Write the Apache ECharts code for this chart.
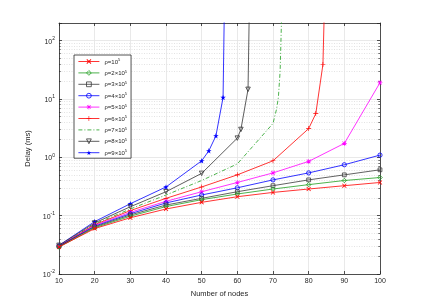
<!DOCTYPE html>
<html><head><meta charset="utf-8">
<script src="https://cdn.jsdelivr.net/npm/echarts@6/dist/echarts.min.js"></script>
<style>html,body{margin:0;padding:0;background:#fff}#c{width:421px;height:308px}</style>
</head><body><div id="c"></div>
<script>
const nodes = [10,20,30,40,50,60,70,80,90,100];
const xTicks = [10,20,30,40,50,60,70,80,90,100];
const rho1 = [0.029,0.060,0.092,0.130,0.169,0.211,0.250,0.286,0.326,0.37];
const rho2 = [0.029,0.062,0.098,0.143,0.188,0.235,0.286,0.34,0.40,0.45];
const rho3 = [0.030,0.064,0.103,0.152,0.198,0.257,0.326,0.41,0.50,0.61];
const rho4 = [0.030,0.066,0.108,0.165,0.226,0.30,0.41,0.54,0.745,1.09];
const rho5 = [0.030,0.068,0.114,0.176,0.257,0.37,0.54,0.85,1.73,19];
const rho6x = [10,20,30,40,50,60,70,80,82,84,85];
const rho6 = [0.030,0.070,0.122,0.198,0.31,0.50,0.87,3.1,5.6,39,1e4];
const rho7x = [10,20,30,40,50,60,70,71,71.5,72,72.5];
const rho7 = [0.030,0.072,0.130,0.226,0.40,0.77,3.8,6.7,10.5,30,400];
const rho8x = [10,20,30,40,50,60,61,63,64];
const rho8 = [0.031,0.075,0.142,0.257,0.53,2.13,3.0,14.6,1e5];
const rho9x = [10,20,30,40,50,52,54,56,57];
const rho9 = [0.031,0.079,0.160,0.31,0.87,1.29,2.33,10.6,2e5];
const names = ['ρ=10^5','ρ=2×10^5','ρ=3×10^5','ρ=4×10^5','ρ=5×10^5','ρ=6×10^5','ρ=7×10^5','ρ=8×10^5','ρ=9×10^5'];

const P_X = 'path://M0,1.2L1.2,0L10,8.8L8.8,10Z M8.8,0L10,1.2L1.2,10L0,8.8Z';
const P_PLUS = 'path://M4.4,0H5.6V4.4H10V5.6H5.6V10H4.4V5.6H0V4.4H4.4Z';
const P_AST = 'path://M4.45,0H5.55V4.45H10V5.55H5.55V10H4.45V5.55H0V4.45H4.45Z M0.8,1.6L1.6,0.8L9.2,8.4L8.4,9.2Z M8.4,0.8L9.2,1.6L1.6,9.2L0.8,8.4Z';
const P_STAR = 'path://M5,0L6.18,3.62L10,3.62L6.91,5.86L8.09,9.51L5,7.27L1.91,9.51L3.09,5.86L0,3.62L3.82,3.62Z';

function pairs(xs, ys){ return xs.map((x,i)=>[x, ys[i]]); }

function mk(i, xs, ys, color, symbol, size, hollow, extra){
  const s = {
    name: names[i], type: 'line', data: pairs(xs, ys),
    symbol: symbol, symbolSize: size, showAllSymbol: true,
    lineStyle: {color: color, width: 0.8},
    itemStyle: hollow ? {color: 'rgba(255,255,255,0)', borderColor: color, borderWidth: 0.8}
                      : {color: color, borderWidth: 0},
    emphasis: {disabled: true}, animation: false, z: 10 - i
  };
  return Object.assign(s, extra || {});
}

const series = [
  mk(0, nodes, rho1, '#ff0000', P_X, 4.5, false),
  mk(1, nodes, rho2, '#1f9e1f', 'diamond', 4.5, true),
  mk(2, nodes, rho3, '#3a3a3a', 'rect', 3.8, true),
  mk(3, nodes, rho4, '#0000ff', 'circle', 4.2, true),
  mk(4, nodes, rho5, '#ff00ff', P_AST, 5, false),
  mk(5, rho6x, rho6, '#ff0000', P_PLUS, 5, false),
  mk(6, rho7x, rho7, '#1f9e1f', 'none', 1, false, {lineStyle: {color: '#1f9e1f', width: 0.8, type: [4,2,1,2]}}),
  mk(7, rho8x, rho8, '#333333', 'triangle', 4.5, true, {symbolRotate: 180}),
  mk(8, rho9x, rho9, '#0000ff', P_STAR, 5.5, false)
];

function supLabel(v){
  const e = Math.round(Math.log10(v));
  if (Math.abs(v - Math.pow(10, e)) / v > 1e-6) return '';
  return '{b|10}{s|' + e + '}';
}

const legendData = names.map(function(n, i){
  return i === 6 ? {name: n, itemStyle: {opacity: 0}} : {name: n};
});

const axisCol = '#262626';
const option = {
  backgroundColor: '#fff',
  animation: false,
  grid: {left: 59, right: 41, top: 23, bottom: 34, containLabel: false, outerBoundsMode: 'none'},
  legend: {
    orient: 'vertical', left: 74, top: 55,
    data: legendData,
    itemWidth: 21, itemHeight: 6, itemGap: 4.4,
    padding: [3, 4, 2, 4],
    backgroundColor: '#fff', borderColor: axisCol, borderWidth: 0.8,
    lineStyle: {width: 0.8},
    itemStyle: {borderWidth: 0.8},
    formatter: function(n){ const p = n.split('^'); return '{a|' + p[0] + '}{e|' + p[1] + '}'; },
    textStyle: {fontSize: 6, color: '#262626', fontFamily: 'Liberation Sans',
      rich: {a: {fontSize: 6, fontFamily: 'Liberation Sans', verticalAlign: 'bottom'},
             e: {fontSize: 4, fontFamily: 'Liberation Sans', verticalAlign: 'bottom', padding: [0,0,3,0]}}},
    selectedMode: false
  },
  xAxis: [{
    type: 'value', min: 10, max: 100, interval: 10, position: 'bottom',
    name: 'Number of nodes', nameLocation: 'middle', nameGap: 15,
    nameTextStyle: {fontSize: 7.5, color: axisCol, fontFamily: 'Liberation Sans'},
    axisLine: {show: true, onZero: false, lineStyle: {color: axisCol, width: 0.8}},
    axisTick: {show: true, inside: true, length: 3, lineStyle: {color: axisCol, width: 0.8}},
    axisLabel: {fontSize: 7, color: axisCol, margin: 4, fontFamily: 'Liberation Sans',
      formatter: function(v){ return xTicks.indexOf(v) >= 0 ? String(v) : ''; }},
    splitLine: {show: true, lineStyle: {color: '#e3e3e3', width: 0.8}}
  }, {
    type: 'value', min: 10, max: 100, interval: 10, position: 'top',
    axisLine: {show: true, onZero: false, lineStyle: {color: axisCol, width: 0.8}},
    axisTick: {show: true, inside: true, length: 3, lineStyle: {color: axisCol, width: 0.8}},
    axisLabel: {show: false}, splitLine: {show: false}
  }],
  yAxis: [{
    type: 'log', logBase: 10, min: 0.01, max: 200, position: 'left',
    name: 'Delay (ms)', nameLocation: 'middle', nameGap: 24,
    nameTextStyle: {fontSize: 7.5, color: axisCol, fontFamily: 'Liberation Sans'},
    axisLine: {show: true, onZero: false, lineStyle: {color: axisCol, width: 0.8}},
    axisTick: {show: true, inside: true, length: 3, lineStyle: {color: axisCol, width: 0.8}},
    minorTick: {show: true, splitNumber: 9, length: 1.8, lineStyle: {color: axisCol, width: 0.6}},
    minorSplitLine: {show: true, lineStyle: {color: '#dcdcdc', width: 0.8, type: [1,1.5]}},
    axisLabel: {color: axisCol, margin: 4, formatter: supLabel,
      rich: {b: {fontSize: 7, color: axisCol, fontFamily: 'Liberation Sans', verticalAlign: 'bottom'},
             s: {fontSize: 5, color: axisCol, fontFamily: 'Liberation Sans', verticalAlign: 'bottom', padding: [0,0,4,0]}}},
    splitLine: {show: true, lineStyle: {color: '#e3e3e3', width: 0.8}}
  }, {
    type: 'log', logBase: 10, min: 0.01, max: 200, position: 'right',
    axisLine: {show: true, onZero: false, lineStyle: {color: axisCol, width: 0.8}},
    axisTick: {show: true, inside: true, length: 3, lineStyle: {color: axisCol, width: 0.8}},
    minorTick: {show: true, splitNumber: 9, length: 1.8, lineStyle: {color: axisCol, width: 0.6}},
    axisLabel: {show: false}, splitLine: {show: false}
  }],
  series: series
};
const chart = echarts.init(document.getElementById('c'));
chart.setOption(option);
</script></body></html>
